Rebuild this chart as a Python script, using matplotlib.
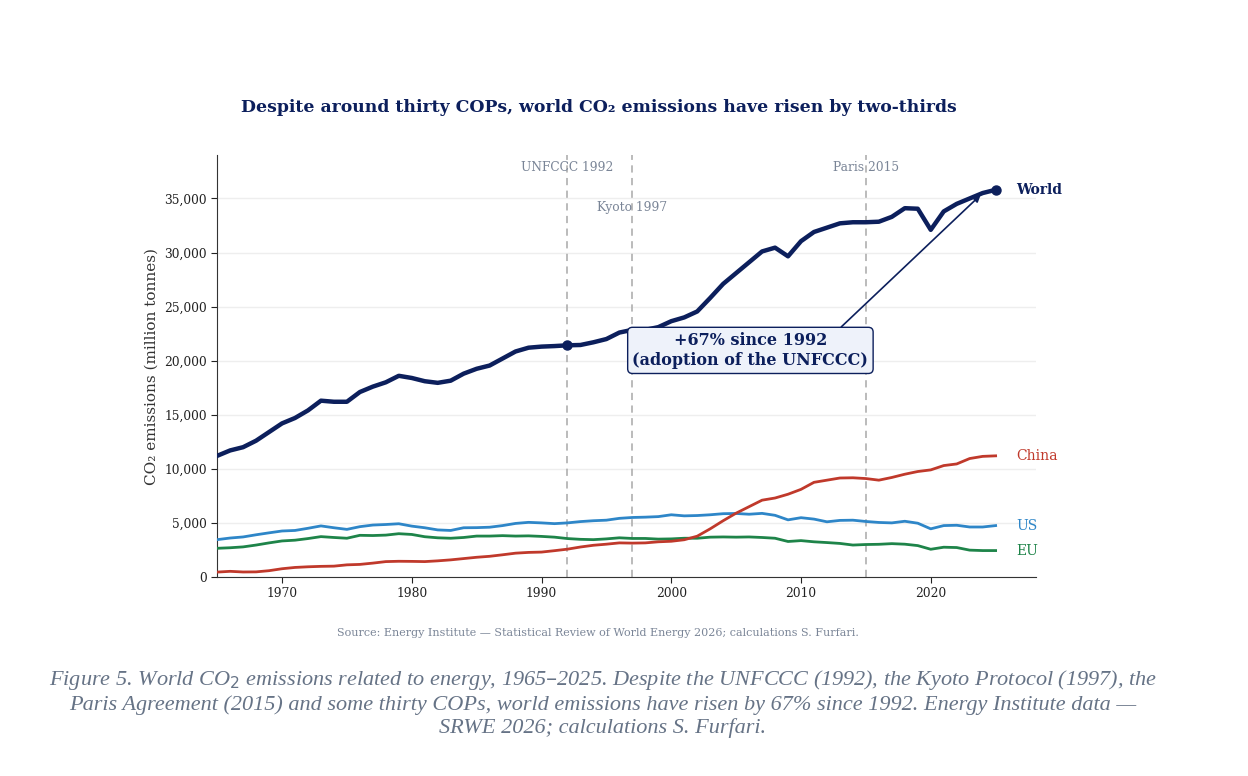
import matplotlib
matplotlib.use("Agg")
import matplotlib.pyplot as plt
from matplotlib.ticker import FuncFormatter

# --- data (million tonnes CO2, energy related) ---
years = list(range(1965, 2026))

world = [11200, 11700, 12000, 12600, 13400, 14200, 14700, 15400, 16300, 16200,
         16200, 17100, 17600, 18000, 18600, 18400, 18100, 17950, 18150, 18800,
         19250, 19550, 20200, 20850, 21200, 21300, 21350, 21420, 21450, 21700,
         22000, 22600, 22850, 22850, 23100, 23650, 24000, 24550, 25800, 27100,
         28100, 29100, 30100, 30450, 29650, 31050, 31900, 32300, 32700, 32800,
         32800, 32850, 33300, 34100, 34050, 32100, 33800, 34500, 35000, 35500,
         35800]

china = [450, 520, 460, 470, 580, 760, 880, 940, 980, 1000,
         1120, 1160, 1280, 1420, 1450, 1440, 1420, 1490, 1580, 1700,
         1820, 1910, 2050, 2200, 2270, 2300, 2430, 2570, 2770, 2930,
         3030, 3150, 3130, 3150, 3250, 3300, 3440, 3770, 4450, 5200,
         5900, 6500, 7100, 7300, 7650, 8100, 8750, 8950, 9150, 9170,
         9100, 8950, 9200, 9500, 9750, 9900, 10300, 10450, 10950, 11150,
         11200]

us = [3450, 3600, 3700, 3900, 4080, 4250, 4300, 4500, 4720, 4550,
      4400, 4650, 4800, 4850, 4920, 4700, 4550, 4350, 4300, 4550,
      4560, 4600, 4750, 4950, 5050, 5000, 4930, 5000, 5120, 5200,
      5250, 5420, 5500, 5530, 5580, 5750, 5650, 5680, 5750, 5850,
      5870, 5800, 5880, 5700, 5280, 5480, 5350, 5100, 5230, 5250,
      5130, 5040, 5000, 5150, 4970, 4450, 4750, 4780, 4620, 4620,
      4750]

eu = [2650, 2700, 2780, 2950, 3150, 3330, 3400, 3550, 3730, 3650,
      3580, 3850, 3830, 3870, 4000, 3930, 3720, 3620, 3580, 3650,
      3780, 3780, 3820, 3780, 3800, 3750, 3680, 3550, 3480, 3450,
      3520, 3620, 3560, 3560, 3500, 3520, 3580, 3580, 3680, 3700,
      3680, 3700, 3650, 3580, 3280, 3360, 3250, 3180, 3100, 2950,
      3000, 3020, 3080, 3030, 2900, 2560, 2750, 2720, 2480, 2440,
      2440]

events = [(1992, "UNFCCC 1992", 37900), (1997, "Kyoto 1997", 34200),
          (2015, "Paris 2015", 37900)]

navy = "#0c1f5c"
red = "#c0392b"
blue = "#2e86c8"
green = "#1e8449"
grey = "#7a8597"

plt.rcParams['font.family'] = ['DejaVu Serif']

fig = plt.figure(figsize=(12.48, 7.76), dpi=100)
ax = fig.add_axes([0.174, 0.2565, 0.656, 0.5435])

for yr, lab, ty in events:
    ax.axvline(yr, color="#b5b5b5", ls=(0, (4, 3)), lw=1.3, zorder=1)
    ax.text(yr, ty, lab, ha="center", va="center", fontsize=8.8, color=grey)

ax.plot(years, eu, color=green, lw=2, zorder=3)
ax.plot(years, us, color=blue, lw=2, zorder=3)
ax.plot(years, china, color=red, lw=2, zorder=3)
ax.plot(years, world, color=navy, lw=3.2, zorder=4)
i92 = years.index(1992)
ax.plot([1992, years[-1]], [world[i92], world[-1]], "o", color=navy, ms=6.5, zorder=5)

for name, vals, col, wt in [("World", world, navy, "bold"), ("China", china, red, "normal"),
                            ("US", us, blue, "normal"), ("EU", eu, green, "normal")]:
    ax.annotate(name, (years[-1], vals[-1]), xytext=(15, 0), textcoords="offset points",
                ha="left", va="center", fontsize=10, color=col, fontweight=wt)

pct = round((world[-1] / world[i92] - 1) * 100)
ax.annotate("+%d%% since 1992\n(adoption of the UNFCCC)" % pct,
            xy=(2024, 35500), xytext=(2006.1, 20950),
            ha="center", va="center", fontsize=11.5, fontweight="bold", color=navy,
            bbox=dict(boxstyle="round,pad=0.3", fc="#eef2fa", ec=navy, lw=1),
            arrowprops=dict(arrowstyle="-|>", color=navy, lw=1.2, relpos=(0.78, 0.5),
                            shrinkA=0, shrinkB=2, mutation_scale=10),
            zorder=6)

ax.set_xlim(1965, 2028.1)
ax.set_ylim(0, 39000)
ax.set_xticks(range(1970, 2021, 10))
ax.set_yticks(range(0, 35001, 5000))
ax.yaxis.set_major_formatter(FuncFormatter(lambda v, p: "{:,.0f}".format(v)))
ax.tick_params(labelsize=8.8, colors="#222222", length=4)
ax.grid(axis="y", color="#eeeeee", lw=1)
ax.set_axisbelow(True)
for s in ["top", "right"]:
    ax.spines[s].set_visible(False)
for s in ["left", "bottom"]:
    ax.spines[s].set_color("#333333")
ax.set_ylabel("CO₂ emissions (million tonnes)", fontsize=11, color="#333333")

fig.text(0.48, 0.861, "Despite around thirty COPs, world CO₂ emissions have risen by two-thirds",
         ha="center", va="center", fontsize=12.4, fontweight="bold", color=navy)
fig.text(0.4795, 0.184,
         "Source: Energy Institute — Statistical Review of World Energy 2026; calculations S. Furfari.",
         ha="center", va="center", fontsize=8, color=grey)

caption = ("Figure 5. World CO$_2$ emissions related to energy, 1965–2025. Despite the UNFCCC (1992), the Kyoto Protocol (1997), the\n"
           "Paris Agreement (2015) and some thirty COPs, world emissions have risen by 67% since 1992. Energy Institute data —\n"
           "SRWE 2026; calculations S. Furfari.")
fig.text(0.483, 0.094, caption, ha="center", va="center", fontsize=16, style="italic",
         color="#667386", family="Liberation Serif", linespacing=1.2)

plt.savefig("out.png", dpi=100)
